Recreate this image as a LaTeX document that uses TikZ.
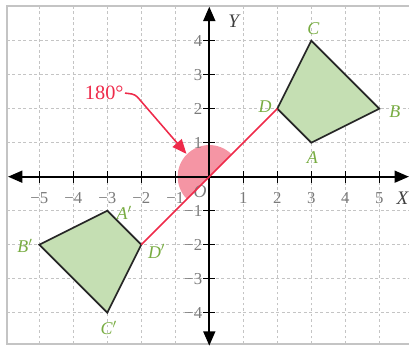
\documentclass[tikz,border=0pt]{standalone}
\usepackage{fontspec}
\setmainfont{Liberation Serif}
\usetikzlibrary{arrows.meta}
\definecolor{gridgray}{HTML}{C4C4C4}
\definecolor{framegray}{HTML}{C4C4C4}
\definecolor{ticklab}{HTML}{7A7A7A}
\definecolor{shapefill}{HTML}{C5DFB3}
\definecolor{ptgreen}{HTML}{78AC42}
\definecolor{rotred}{HTML}{EE2A4A}
\definecolor{sectorpink}{HTML}{F4899A}
\tikzset{
  gridline/.style={gridgray, line width=0.9pt, dash pattern=on 2.4pt off 2.2pt},
  axisline/.style={black, line width=1.5pt, {Triangle[length=12pt,width=10pt]}-{Triangle[length=12pt,width=10pt]}},
  tickmark/.style={black, line width=1.3pt},
  ticklabel/.style={ticklab, font=\fontsize{14}{16}\selectfont, inner sep=0pt},
  quad/.style={fill=shapefill, draw=black!85, line width=1.4pt, line join=miter},
  ptlabel/.style={ptgreen, font=\fontsize{15}{17}\selectfont\itshape, inner sep=0pt},
  axlabel/.style={black!75, font=\fontsize{16}{18}\selectfont\itshape, inner sep=0pt},
  redline/.style={rotred, line width=1.4pt},
  sectorfill/.style={fill=sectorpink, fill opacity=0.9}
}
\begin{document}
\begin{tikzpicture}[x=1cm,y=1cm]
\useasboundingbox (-6.156,-5.009) rectangle (5.874,5.197);
% frame
\draw[framegray, line width=1.5pt] (5.95,5.02) -- (-5.95,5.02) -- (-5.95,-4.92) -- (5.95,-4.92);
% grid
\foreach \x in {-5,...,5} { \draw[gridline] (\x,-4.92) -- (\x,5.02); }
\foreach \y in {-4,...,4} { \draw[gridline] (-5.95,\y) -- (5.9,\y); }
% sector
\fill[sectorfill] (0,0) -- (45:0.93) arc[start angle=45, end angle=225, radius=0.93] -- cycle;
% axes
\coordinate (xl) at (-5.92,0);
\coordinate (xr) at (5.87,0);
\coordinate (yb) at (0,-4.97);
\coordinate (yt) at (0,5.0);
\draw[axisline] (xl) -- (xr);
\draw[axisline] (yb) -- (yt);
\foreach \x in {-5,...,-1,1,2,3,4,5} { \draw[tickmark] (\x,-0.18) -- (\x,0.18); }
\foreach \y in {-4,...,-1,1,2,3,4} { \draw[tickmark] (-0.18,\y) -- (0.18,\y); }
\foreach \x in {-5,...,-1} { \node[ticklabel] (tx\x) at (\x,-0.64) {−\the\numexpr-\x\relax}; }
\foreach \x in {1,...,5} { \node[ticklabel] (tx\x) at (\x,-0.64) {\x}; }
\foreach \y in {-4,...,-1} { \node[ticklabel, anchor=east] (ty\y) at (-0.2,\y) {−\the\numexpr-\y\relax}; }
\foreach \y in {1,...,4} { \node[ticklabel, anchor=east] (ty\y) at (-0.2,\y) {\y}; }
\node[axlabel] (X) at (5.68,-0.64) {X};
\node[axlabel] (Y) at (0.72,4.57) {Y};
\node[ticklab, font=\fontsize{15}{17}\selectfont\itshape, inner sep=0pt] (O) at (-0.27,-0.45) {O};
% quadrilaterals
\coordinate (A) at (3,1);
\coordinate (B) at (5,2);
\coordinate (C) at (3,4);
\coordinate (D) at (2,2);
\coordinate (A') at (-3,-1);
\coordinate (B') at (-5,-2);
\coordinate (C') at (-3,-4);
\coordinate (D') at (-2,-2);
\draw[quad] (A) -- (B) -- (C) -- (D) -- cycle;
\draw[quad] (A') -- (B') -- (C') -- (D') -- cycle;
% rotation line
\draw[redline] (D') -- (D);
% point labels
\node[ptlabel] (lA) at (3.03,0.55) {A};
\node[ptlabel] (lB) at (5.46,1.92) {B};
\node[ptlabel] (lC) at (3.06,4.36) {C};
\node[ptlabel] (lD) at (1.64,2.05) {D};
\node[ptlabel] (lA') at (-2.5,-1.07) {A$'$};
\node[ptlabel] (lB') at (-5.42,-2.04) {B$'$};
\node[ptlabel] (lC') at (-2.96,-4.45) {C$'$};
\node[ptlabel] (lD') at (-1.55,-2.2) {D$'$};
% angle label
\node[rotred, font=\fontsize{17}{19}\selectfont, inner sep=1pt, anchor=east] (ang) at (-2.48,2.46) {180°};
\coordinate (tip) at (135:0.95);
\draw[rotred, line width=1.3pt, rounded corners=3pt, -{Triangle[length=12pt,width=10pt]}] (ang.east) -- (-2.18,2.42) -- (tip);
\end{tikzpicture}
\end{document}
